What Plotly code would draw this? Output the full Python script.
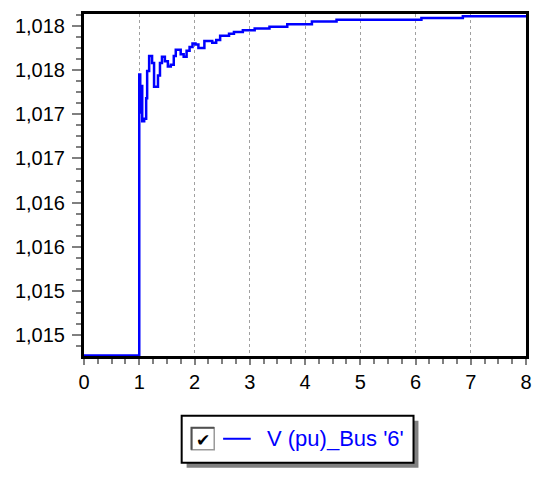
import plotly.graph_objects as go

# ---- data ----
TIME = [0.0, 1.0, 1.0, 1.018, 1.036, 1.054, 1.089, 1.125, 1.143, 1.179, 1.214, 1.232,
        1.268, 1.304, 1.339, 1.375, 1.411, 1.464, 1.518, 1.571, 1.625, 1.661, 1.714,
        1.750, 1.804, 1.857, 1.911, 1.964, 2.018, 2.071, 2.125, 2.179, 2.268, 2.321,
        2.393, 2.464, 2.554, 2.625, 2.714, 2.821, 2.875, 2.982, 3.089, 3.357, 3.679,
        4.125, 4.571, 6.107, 6.857, 8.0]
VOLTAGE = [1.01427, 1.01427, 1.01745, 1.01702, 1.01732, 1.01692, 1.01695, 1.01718, 1.01749,
           1.01766, 1.01766, 1.01758, 1.01731, 1.01731, 1.01744, 1.01758, 1.01765, 1.01760,
           1.01754, 1.01756, 1.01766, 1.01773, 1.01773, 1.01768, 1.01765, 1.01772, 1.01776,
           1.01780, 1.01779, 1.01775, 1.01775, 1.01783, 1.01783, 1.01781, 1.01784, 1.01789,
           1.01789, 1.01791, 1.01793, 1.01793, 1.01795, 1.01795, 1.01797, 1.01799, 1.01802,
           1.01805, 1.01807, 1.01809, 1.01811, 1.01811]
SERIES_NAME = "V (pu)_Bus '6'"
Y_TICKS = [1.0145, 1.0150, 1.0155, 1.0160, 1.0165, 1.0170, 1.0175, 1.0180]
Y_TICK_LABELS = ["1,015", "1,015", "1,016", "1,016", "1,017", "1,017", "1,018", "1,018"]
X_TICKS = [0, 1, 2, 3, 4, 5, 6, 7, 8]
X_TICK_LABELS = ["0", "1", "2", "3", "4", "5", "6", "7", "8"]

W, H = 543, 479
L, R, T, B = 84, 11, 13, 123
PW, PH = W - L - R, H - T - B

def px(x):
    return (x - L) / PW

def py(y):
    return (H - B - y) / PH

BLUE = "#0000ff"
FONT = "Liberation Sans, Arial, sans-serif"

fig = go.Figure()
fig.add_trace(go.Scatter(x=TIME, y=VOLTAGE, mode="lines", name=SERIES_NAME,
                         line=dict(color=BLUE, width=2.5, shape="hv"),
                         showlegend=False, hoverinfo="skip"))

fig.update_layout(
    width=W, height=H,
    margin=dict(l=L, r=R, t=T, b=B, pad=0),
    paper_bgcolor="white", plot_bgcolor="white",
    font=dict(family=FONT, size=20, color="black"),
    xaxis=dict(range=[0, 8], tickvals=X_TICKS, ticktext=X_TICK_LABELS,
               showgrid=True, gridcolor="#a0a0a0", griddash="dot", gridwidth=1.2,
               showline=True, linecolor="black", linewidth=3, mirror=True,
               ticks="outside", ticklen=6, tickcolor="#808080", tickwidth=1.5,
               minor=dict(dtick=0.25, tick0=0, ticks="outside", ticklen=5,
                          tickcolor="#808080", tickwidth=1.5, showgrid=False),
               zeroline=False, tickfont=dict(size=20)),
    yaxis=dict(range=[1.014263, 1.018135], tickvals=Y_TICKS, ticktext=Y_TICK_LABELS,
               showgrid=False,
               showline=True, linecolor="black", linewidth=3, mirror=True,
               ticks="outside", ticklen=9, tickcolor="#808080", tickwidth=1.5,
               minor=dict(dtick=0.000125, tick0=1.0145, ticks="outside", ticklen=5,
                          tickcolor="#808080", tickwidth=1.5, showgrid=False),
               zeroline=False, tickfont=dict(size=20), ticklabelstandoff=3),
)

# ---- legend box drawn to mimic the reference ----
shapes = [
    dict(type="rect", xref="paper", yref="paper", x0=px(188), x1=px(423), y0=py(468), y1=py(421),
         fillcolor="#808080", line=dict(width=0)),
    dict(type="rect", xref="paper", yref="paper", x0=px(183), x1=px(418), y0=py(463), y1=py(416),
         fillcolor="white", line=dict(color="black", width=2)),
    dict(type="rect", xref="paper", yref="paper", x0=px(193), x1=px(216), y0=py(450), y1=py(428),
         fillcolor="white", line=dict(color="#9a9a9a", width=1.5)),
    dict(type="path", xref="paper", yref="paper",
         path=f"M {px(193)},{py(450)} L {px(193)},{py(428)} L {px(216)},{py(428)}",
         line=dict(color="#505050", width=2)),
    dict(type="line", xref="paper", yref="paper", x0=px(225), x1=px(253), y0=py(439), y1=py(439),
         line=dict(color=BLUE, width=2)),
]
fig.update_layout(shapes=shapes)
fig.add_annotation(xref="paper", yref="paper", x=px(204.5), y=py(440), text="<b>✔</b>",
                   showarrow=False, font=dict(family="DejaVu Sans", size=17, color="black"),
                   xanchor="center", yanchor="middle")
fig.add_annotation(xref="paper", yref="paper", x=px(267), y=py(439), text=SERIES_NAME,
                   showarrow=False, font=dict(family=FONT, size=22, color=BLUE),
                   xanchor="left", yanchor="middle")

fig.write_html("out.html", config={"displayModeBar": False},
               post_script="document.body.style.margin='0';document.body.style.overflow='hidden';")
